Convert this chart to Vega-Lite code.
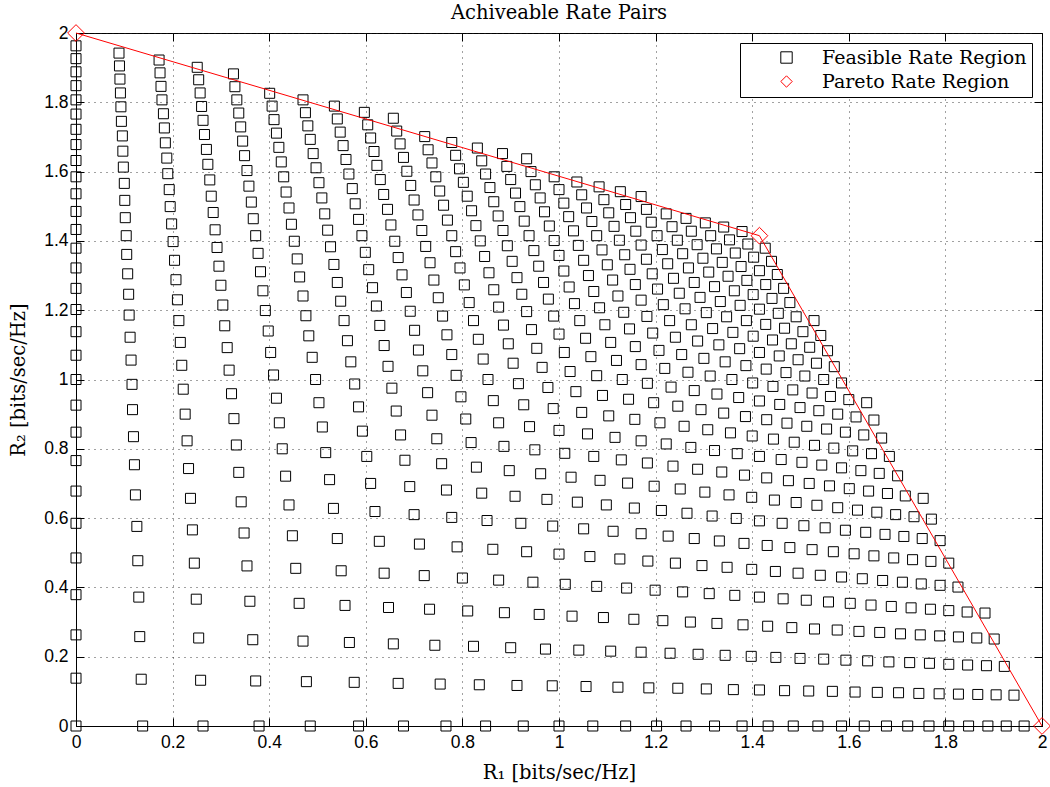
{
"$schema":"https://vega.github.io/schema/vega-lite/v6.json",
"width":966,"height":693,
"autosize":{"type":"none"},
"padding":{"left":76,"top":33,"right":8,"bottom":61},
"background":"white",
"title":{"text":"Achiveable Rate Pairs","font":"DejaVu Serif","fontSize":19.5,"fontWeight":"normal","color":"black","offset":-1},
"config":{
"view":{"stroke":"black","strokeWidth":1},
"axis":{"domainColor":"black","domainWidth":1,"tickColor":"black","tickWidth":1,"tickSize":-8,"labelFont":"Liberation Sans","labelFontSize":17.5,"labelColor":"black","titleFont":"DejaVu Serif","titleFontSize":19.5,"titleFontWeight":"normal","titleColor":"black","gridColor":"#222222","gridDash":[1,5],"gridWidth":1,"gridOpacity":0.85,"labelFlush":false,"labelOverlap":false},
"legend":{"orient":"top-right","offset":10,"strokeColor":"black","fillColor":"white","padding":5,"labelFont":"DejaVu Serif","labelFontSize":19,"labelColor":"black","labelLimit":400,"symbolSize":130,"symbolStrokeWidth":1,"symbolOffset":32,"labelOffset":26,"rowPadding":4,"cornerRadius":0}
},
"datasets":{
"pareto":[{"x":0,"y":2},{"x":1.415,"y":1.415},{"x":2,"y":0}],
"feasible":[
{"x":0,"y":0},{"x":0,"y":0.138},{"x":0,"y":0.263},{"x":0,"y":0.379},{"x":0,"y":0.485},{"x":0,"y":0.585},{"x":0,"y":0.678},{"x":0,"y":0.766},{"x":0,"y":0.848},{"x":0,"y":0.926},{"x":0,"y":1},{"x":0,"y":1.07},{"x":0,"y":1.138},{"x":0,"y":1.202},{"x":0,"y":1.263},{"x":0,"y":1.322},{"x":0,"y":1.379},{"x":0,"y":1.433},{"x":0,"y":1.485},{"x":0,"y":1.536},{"x":0,"y":1.585},{"x":0,"y":1.632},{"x":0,"y":1.678},{"x":0,"y":1.722},{"x":0,"y":1.766},{"x":0,"y":1.807},{"x":0,"y":1.848},{"x":0,"y":1.888},{"x":0,"y":1.926},{"x":0,"y":1.963},
{"x":0.138,"y":0},{"x":0.135,"y":0.135},{"x":0.132,"y":0.258},{"x":0.13,"y":0.372},{"x":0.128,"y":0.477},{"x":0.126,"y":0.576},{"x":0.123,"y":0.667},{"x":0.121,"y":0.754},{"x":0.119,"y":0.835},{"x":0.117,"y":0.913},{"x":0.116,"y":0.986},{"x":0.114,"y":1.056},{"x":0.112,"y":1.122},{"x":0.11,"y":1.186},{"x":0.109,"y":1.246},{"x":0.107,"y":1.305},{"x":0.105,"y":1.361},{"x":0.104,"y":1.415},{"x":0.102,"y":1.467},{"x":0.101,"y":1.517},{"x":0.1,"y":1.566},{"x":0.098,"y":1.613},{"x":0.097,"y":1.659},{"x":0.096,"y":1.703},{"x":0.094,"y":1.745},{"x":0.093,"y":1.787},{"x":0.092,"y":1.827},{"x":0.091,"y":1.867},{"x":0.09,"y":1.905},{"x":0.089,"y":1.942},
{"x":0.263,"y":0},{"x":0.258,"y":0.132},{"x":0.254,"y":0.254},{"x":0.249,"y":0.366},{"x":0.245,"y":0.47},{"x":0.241,"y":0.566},{"x":0.237,"y":0.657},{"x":0.233,"y":0.743},{"x":0.23,"y":0.823},{"x":0.226,"y":0.9},{"x":0.222,"y":0.972},{"x":0.219,"y":1.041},{"x":0.216,"y":1.107},{"x":0.213,"y":1.17},{"x":0.21,"y":1.23},{"x":0.207,"y":1.288},{"x":0.204,"y":1.344},{"x":0.201,"y":1.398},{"x":0.198,"y":1.449},{"x":0.195,"y":1.499},{"x":0.193,"y":1.548},{"x":0.19,"y":1.594},{"x":0.188,"y":1.639},{"x":0.185,"y":1.683},{"x":0.183,"y":1.726},{"x":0.181,"y":1.767},{"x":0.178,"y":1.807},{"x":0.176,"y":1.846},{"x":0.174,"y":1.885},{"x":0.172,"y":1.922},
{"x":0.379,"y":0},{"x":0.372,"y":0.13},{"x":0.366,"y":0.249},{"x":0.36,"y":0.36},{"x":0.354,"y":0.462},{"x":0.348,"y":0.557},{"x":0.342,"y":0.647},{"x":0.337,"y":0.732},{"x":0.332,"y":0.811},{"x":0.327,"y":0.887},{"x":0.322,"y":0.959},{"x":0.317,"y":1.027},{"x":0.313,"y":1.092},{"x":0.308,"y":1.155},{"x":0.304,"y":1.215},{"x":0.3,"y":1.272},{"x":0.296,"y":1.327},{"x":0.292,"y":1.381},{"x":0.288,"y":1.432},{"x":0.284,"y":1.482},{"x":0.28,"y":1.529},{"x":0.277,"y":1.576},{"x":0.273,"y":1.621},{"x":0.27,"y":1.664},{"x":0.266,"y":1.707},{"x":0.263,"y":1.748},{"x":0.26,"y":1.788},{"x":0.257,"y":1.827},{"x":0.254,"y":1.865},{"x":0.251,"y":1.901},
{"x":0.485,"y":0},{"x":0.477,"y":0.128},{"x":0.47,"y":0.245},{"x":0.462,"y":0.354},{"x":0.455,"y":0.455},{"x":0.448,"y":0.549},{"x":0.441,"y":0.638},{"x":0.434,"y":0.721},{"x":0.427,"y":0.8},{"x":0.421,"y":0.875},{"x":0.415,"y":0.946},{"x":0.409,"y":1.013},{"x":0.403,"y":1.078},{"x":0.398,"y":1.14},{"x":0.392,"y":1.199},{"x":0.387,"y":1.256},{"x":0.382,"y":1.311},{"x":0.377,"y":1.364},{"x":0.372,"y":1.415},{"x":0.367,"y":1.464},{"x":0.363,"y":1.512},{"x":0.358,"y":1.558},{"x":0.354,"y":1.603},{"x":0.349,"y":1.646},{"x":0.345,"y":1.688},{"x":0.341,"y":1.729},{"x":0.337,"y":1.769},{"x":0.333,"y":1.807},{"x":0.329,"y":1.845},{"x":0.326,"y":1.882},
{"x":0.585,"y":0},{"x":0.576,"y":0.126},{"x":0.566,"y":0.241},{"x":0.557,"y":0.348},{"x":0.549,"y":0.448},{"x":0.541,"y":0.541},{"x":0.533,"y":0.628},{"x":0.525,"y":0.711},{"x":0.517,"y":0.789},{"x":0.51,"y":0.863},{"x":0.503,"y":0.933},{"x":0.496,"y":1},{"x":0.489,"y":1.064},{"x":0.482,"y":1.126},{"x":0.476,"y":1.184},{"x":0.47,"y":1.241},{"x":0.463,"y":1.296},{"x":0.458,"y":1.348},{"x":0.452,"y":1.399},{"x":0.446,"y":1.448},{"x":0.441,"y":1.495},{"x":0.435,"y":1.541},{"x":0.43,"y":1.585},{"x":0.425,"y":1.628},{"x":0.42,"y":1.67},{"x":0.415,"y":1.711},{"x":0.41,"y":1.75},{"x":0.406,"y":1.789},{"x":0.401,"y":1.826},
{"x":0.678,"y":0},{"x":0.667,"y":0.123},{"x":0.657,"y":0.237},{"x":0.647,"y":0.342},{"x":0.638,"y":0.441},{"x":0.628,"y":0.533},{"x":0.619,"y":0.619},{"x":0.61,"y":0.7},{"x":0.602,"y":0.778},{"x":0.593,"y":0.851},{"x":0.585,"y":0.921},{"x":0.577,"y":0.987},{"x":0.569,"y":1.051},{"x":0.562,"y":1.112},{"x":0.555,"y":1.17},{"x":0.548,"y":1.226},{"x":0.541,"y":1.28},{"x":0.534,"y":1.332},{"x":0.527,"y":1.383},{"x":0.521,"y":1.431},{"x":0.515,"y":1.478},{"x":0.509,"y":1.524},{"x":0.503,"y":1.568},{"x":0.497,"y":1.611},{"x":0.491,"y":1.652},{"x":0.485,"y":1.693},{"x":0.48,"y":1.732},{"x":0.475,"y":1.77},{"x":0.47,"y":1.807},
{"x":0.766,"y":0},{"x":0.754,"y":0.121},{"x":0.743,"y":0.233},{"x":0.732,"y":0.337},{"x":0.721,"y":0.434},{"x":0.711,"y":0.525},{"x":0.7,"y":0.61},{"x":0.691,"y":0.691},{"x":0.681,"y":0.767},{"x":0.672,"y":0.84},{"x":0.663,"y":0.909},{"x":0.654,"y":0.975},{"x":0.646,"y":1.038},{"x":0.638,"y":1.098},{"x":0.629,"y":1.156},{"x":0.622,"y":1.212},{"x":0.614,"y":1.265},{"x":0.606,"y":1.317},{"x":0.599,"y":1.367},{"x":0.592,"y":1.415},{"x":0.585,"y":1.462},{"x":0.578,"y":1.507},{"x":0.572,"y":1.551},{"x":0.565,"y":1.593},{"x":0.559,"y":1.635},{"x":0.553,"y":1.675},{"x":0.547,"y":1.714},{"x":0.541,"y":1.752},{"x":0.535,"y":1.789},
{"x":0.848,"y":0},{"x":0.835,"y":0.119},{"x":0.823,"y":0.23},{"x":0.811,"y":0.332},{"x":0.8,"y":0.427},{"x":0.789,"y":0.517},{"x":0.778,"y":0.602},{"x":0.767,"y":0.681},{"x":0.757,"y":0.757},{"x":0.747,"y":0.829},{"x":0.737,"y":0.897},{"x":0.728,"y":0.962},{"x":0.718,"y":1.025},{"x":0.709,"y":1.085},{"x":0.701,"y":1.142},{"x":0.692,"y":1.197},{"x":0.684,"y":1.251},{"x":0.675,"y":1.302},{"x":0.667,"y":1.352},{"x":0.66,"y":1.399},{"x":0.652,"y":1.446},{"x":0.645,"y":1.491},{"x":0.637,"y":1.534},{"x":0.63,"y":1.577},{"x":0.623,"y":1.618},{"x":0.617,"y":1.658},{"x":0.61,"y":1.697},{"x":0.604,"y":1.735},{"x":0.597,"y":1.771},
{"x":0.926,"y":0},{"x":0.913,"y":0.117},{"x":0.9,"y":0.226},{"x":0.887,"y":0.327},{"x":0.875,"y":0.421},{"x":0.863,"y":0.51},{"x":0.851,"y":0.593},{"x":0.84,"y":0.672},{"x":0.829,"y":0.747},{"x":0.818,"y":0.818},{"x":0.807,"y":0.886},{"x":0.797,"y":0.95},{"x":0.787,"y":1.012},{"x":0.778,"y":1.072},{"x":0.768,"y":1.129},{"x":0.759,"y":1.183},{"x":0.75,"y":1.236},{"x":0.741,"y":1.287},{"x":0.733,"y":1.337},{"x":0.724,"y":1.384},{"x":0.716,"y":1.43},{"x":0.708,"y":1.475},{"x":0.7,"y":1.518},{"x":0.693,"y":1.56},{"x":0.685,"y":1.601},{"x":0.678,"y":1.641},{"x":0.671,"y":1.68},{"x":0.664,"y":1.717},{"x":0.657,"y":1.754},
{"x":1,"y":0},{"x":0.986,"y":0.116},{"x":0.972,"y":0.222},{"x":0.959,"y":0.322},{"x":0.946,"y":0.415},{"x":0.933,"y":0.503},{"x":0.921,"y":0.585},{"x":0.909,"y":0.663},{"x":0.897,"y":0.737},{"x":0.886,"y":0.807},{"x":0.875,"y":0.875},{"x":0.864,"y":0.939},{"x":0.853,"y":1},{"x":0.843,"y":1.059},{"x":0.833,"y":1.116},{"x":0.823,"y":1.17},{"x":0.814,"y":1.222},{"x":0.804,"y":1.273},{"x":0.795,"y":1.322},{"x":0.786,"y":1.369},{"x":0.778,"y":1.415},{"x":0.769,"y":1.46},{"x":0.761,"y":1.503},{"x":0.753,"y":1.544},{"x":0.745,"y":1.585},{"x":0.737,"y":1.625},{"x":0.729,"y":1.663},{"x":0.722,"y":1.701},
{"x":1.07,"y":0},{"x":1.056,"y":0.114},{"x":1.041,"y":0.219},{"x":1.027,"y":0.317},{"x":1.013,"y":0.409},{"x":1,"y":0.496},{"x":0.987,"y":0.577},{"x":0.975,"y":0.654},{"x":0.962,"y":0.728},{"x":0.95,"y":0.797},{"x":0.939,"y":0.864},{"x":0.927,"y":0.927},{"x":0.916,"y":0.988},{"x":0.905,"y":1.047},{"x":0.895,"y":1.103},{"x":0.885,"y":1.157},{"x":0.875,"y":1.209},{"x":0.865,"y":1.259},{"x":0.855,"y":1.308},{"x":0.846,"y":1.355},{"x":0.837,"y":1.4},{"x":0.828,"y":1.444},{"x":0.819,"y":1.487},{"x":0.81,"y":1.529},{"x":0.802,"y":1.569},{"x":0.794,"y":1.608},{"x":0.786,"y":1.647},{"x":0.778,"y":1.684},
{"x":1.138,"y":0},{"x":1.122,"y":0.112},{"x":1.107,"y":0.216},{"x":1.092,"y":0.313},{"x":1.078,"y":0.403},{"x":1.064,"y":0.489},{"x":1.051,"y":0.569},{"x":1.038,"y":0.646},{"x":1.025,"y":0.718},{"x":1.012,"y":0.787},{"x":1,"y":0.853},{"x":0.988,"y":0.916},{"x":0.977,"y":0.977},{"x":0.965,"y":1.035},{"x":0.954,"y":1.09},{"x":0.943,"y":1.144},{"x":0.933,"y":1.196},{"x":0.923,"y":1.246},{"x":0.913,"y":1.294},{"x":0.903,"y":1.341},{"x":0.893,"y":1.386},{"x":0.884,"y":1.43},{"x":0.874,"y":1.472},{"x":0.865,"y":1.513},{"x":0.857,"y":1.554},{"x":0.848,"y":1.593},{"x":0.84,"y":1.631},{"x":0.831,"y":1.668},
{"x":1.202,"y":0},{"x":1.186,"y":0.11},{"x":1.17,"y":0.213},{"x":1.155,"y":0.308},{"x":1.14,"y":0.398},{"x":1.126,"y":0.482},{"x":1.112,"y":0.562},{"x":1.098,"y":0.638},{"x":1.085,"y":0.709},{"x":1.072,"y":0.778},{"x":1.059,"y":0.843},{"x":1.047,"y":0.905},{"x":1.035,"y":0.965},{"x":1.023,"y":1.023},{"x":1.011,"y":1.078},{"x":1,"y":1.131},{"x":0.989,"y":1.183},{"x":0.978,"y":1.232},{"x":0.968,"y":1.28},{"x":0.958,"y":1.327},{"x":0.948,"y":1.372},{"x":0.938,"y":1.415},{"x":0.928,"y":1.457},{"x":0.919,"y":1.499},{"x":0.91,"y":1.538},{"x":0.9,"y":1.577},{"x":0.892,"y":1.615},{"x":0.883,"y":1.652},
{"x":1.263,"y":0},{"x":1.246,"y":0.109},{"x":1.23,"y":0.21},{"x":1.215,"y":0.304},{"x":1.199,"y":0.392},{"x":1.184,"y":0.476},{"x":1.17,"y":0.555},{"x":1.156,"y":0.629},{"x":1.142,"y":0.701},{"x":1.129,"y":0.768},{"x":1.116,"y":0.833},{"x":1.103,"y":0.895},{"x":1.09,"y":0.954},{"x":1.078,"y":1.011},{"x":1.066,"y":1.066},{"x":1.055,"y":1.119},{"x":1.043,"y":1.17},{"x":1.032,"y":1.219},{"x":1.021,"y":1.267},{"x":1.01,"y":1.313},{"x":1,"y":1.358},{"x":0.99,"y":1.401},{"x":0.98,"y":1.443},{"x":0.97,"y":1.484},{"x":0.961,"y":1.524},{"x":0.951,"y":1.562},{"x":0.942,"y":1.6},{"x":0.933,"y":1.637},
{"x":1.322,"y":0},{"x":1.305,"y":0.107},{"x":1.288,"y":0.207},{"x":1.272,"y":0.3},{"x":1.256,"y":0.387},{"x":1.241,"y":0.47},{"x":1.226,"y":0.548},{"x":1.212,"y":0.622},{"x":1.197,"y":0.692},{"x":1.183,"y":0.759},{"x":1.17,"y":0.823},{"x":1.157,"y":0.885},{"x":1.144,"y":0.943},{"x":1.131,"y":1},{"x":1.119,"y":1.055},{"x":1.107,"y":1.107},{"x":1.095,"y":1.158},{"x":1.084,"y":1.207},{"x":1.072,"y":1.254},{"x":1.061,"y":1.3},{"x":1.051,"y":1.344},{"x":1.04,"y":1.387},{"x":1.03,"y":1.429},{"x":1.02,"y":1.47},{"x":1.01,"y":1.509},{"x":1,"y":1.548},{"x":0.99,"y":1.585},
{"x":1.379,"y":0},{"x":1.361,"y":0.105},{"x":1.344,"y":0.204},{"x":1.327,"y":0.296},{"x":1.311,"y":0.382},{"x":1.296,"y":0.463},{"x":1.28,"y":0.541},{"x":1.265,"y":0.614},{"x":1.251,"y":0.684},{"x":1.236,"y":0.75},{"x":1.222,"y":0.814},{"x":1.209,"y":0.875},{"x":1.196,"y":0.933},{"x":1.183,"y":0.989},{"x":1.17,"y":1.043},{"x":1.158,"y":1.095},{"x":1.146,"y":1.146},{"x":1.134,"y":1.194},{"x":1.122,"y":1.241},{"x":1.111,"y":1.287},{"x":1.1,"y":1.331},{"x":1.089,"y":1.374},{"x":1.078,"y":1.415},{"x":1.068,"y":1.456},{"x":1.057,"y":1.495},{"x":1.047,"y":1.533},{"x":1.037,"y":1.57},
{"x":1.433,"y":0},{"x":1.415,"y":0.104},{"x":1.398,"y":0.201},{"x":1.381,"y":0.292},{"x":1.364,"y":0.377},{"x":1.348,"y":0.458},{"x":1.332,"y":0.534},{"x":1.317,"y":0.606},{"x":1.302,"y":0.675},{"x":1.287,"y":0.741},{"x":1.273,"y":0.804},{"x":1.259,"y":0.865},{"x":1.246,"y":0.923},{"x":1.232,"y":0.978},{"x":1.219,"y":1.032},{"x":1.207,"y":1.084},{"x":1.194,"y":1.134},{"x":1.182,"y":1.182},{"x":1.17,"y":1.229},{"x":1.158,"y":1.274},{"x":1.147,"y":1.318},{"x":1.136,"y":1.36},{"x":1.125,"y":1.402},{"x":1.114,"y":1.442},{"x":1.103,"y":1.481},{"x":1.093,"y":1.519},{"x":1.083,"y":1.556},
{"x":1.485,"y":0},{"x":1.467,"y":0.102},{"x":1.449,"y":0.198},{"x":1.432,"y":0.288},{"x":1.415,"y":0.372},{"x":1.399,"y":0.452},{"x":1.383,"y":0.527},{"x":1.367,"y":0.599},{"x":1.352,"y":0.667},{"x":1.337,"y":0.733},{"x":1.322,"y":0.795},{"x":1.308,"y":0.855},{"x":1.294,"y":0.913},{"x":1.28,"y":0.968},{"x":1.267,"y":1.021},{"x":1.254,"y":1.072},{"x":1.241,"y":1.122},{"x":1.229,"y":1.17},{"x":1.216,"y":1.216},{"x":1.204,"y":1.261},{"x":1.193,"y":1.305},{"x":1.181,"y":1.347},{"x":1.17,"y":1.388},{"x":1.159,"y":1.428},{"x":1.148,"y":1.467},{"x":1.138,"y":1.505},{"x":1.127,"y":1.542},
{"x":1.536,"y":0},{"x":1.517,"y":0.101},{"x":1.499,"y":0.195},{"x":1.482,"y":0.284},{"x":1.464,"y":0.367},{"x":1.448,"y":0.446},{"x":1.431,"y":0.521},{"x":1.415,"y":0.592},{"x":1.399,"y":0.66},{"x":1.384,"y":0.724},{"x":1.369,"y":0.786},{"x":1.355,"y":0.846},{"x":1.341,"y":0.903},{"x":1.327,"y":0.958},{"x":1.313,"y":1.01},{"x":1.3,"y":1.061},{"x":1.287,"y":1.111},{"x":1.274,"y":1.158},{"x":1.261,"y":1.204},{"x":1.249,"y":1.249},{"x":1.237,"y":1.292},{"x":1.225,"y":1.334},{"x":1.214,"y":1.375},{"x":1.203,"y":1.415},{"x":1.191,"y":1.454},{"x":1.181,"y":1.491},{"x":1.17,"y":1.528},
{"x":1.585,"y":0},{"x":1.566,"y":0.1},{"x":1.548,"y":0.193},{"x":1.529,"y":0.28},{"x":1.512,"y":0.363},{"x":1.495,"y":0.441},{"x":1.478,"y":0.515},{"x":1.462,"y":0.585},{"x":1.446,"y":0.652},{"x":1.43,"y":0.716},{"x":1.415,"y":0.778},{"x":1.4,"y":0.837},{"x":1.386,"y":0.893},{"x":1.372,"y":0.948},{"x":1.358,"y":1},{"x":1.344,"y":1.051},{"x":1.331,"y":1.1},{"x":1.318,"y":1.147},{"x":1.305,"y":1.193},{"x":1.292,"y":1.237},{"x":1.28,"y":1.28},{"x":1.268,"y":1.322},{"x":1.256,"y":1.363},{"x":1.245,"y":1.402},{"x":1.234,"y":1.441},{"x":1.222,"y":1.478},
{"x":1.632,"y":0},{"x":1.613,"y":0.098},{"x":1.594,"y":0.19},{"x":1.576,"y":0.277},{"x":1.558,"y":0.358},{"x":1.541,"y":0.435},{"x":1.524,"y":0.509},{"x":1.507,"y":0.578},{"x":1.491,"y":0.645},{"x":1.475,"y":0.708},{"x":1.46,"y":0.769},{"x":1.444,"y":0.828},{"x":1.43,"y":0.884},{"x":1.415,"y":0.938},{"x":1.401,"y":0.99},{"x":1.387,"y":1.04},{"x":1.374,"y":1.089},{"x":1.36,"y":1.136},{"x":1.347,"y":1.181},{"x":1.334,"y":1.225},{"x":1.322,"y":1.268},{"x":1.31,"y":1.31},{"x":1.298,"y":1.35},{"x":1.286,"y":1.389},{"x":1.274,"y":1.428},{"x":1.263,"y":1.465},
{"x":1.678,"y":0},{"x":1.659,"y":0.097},{"x":1.639,"y":0.188},{"x":1.621,"y":0.273},{"x":1.603,"y":0.354},{"x":1.585,"y":0.43},{"x":1.568,"y":0.503},{"x":1.551,"y":0.572},{"x":1.534,"y":0.637},{"x":1.518,"y":0.7},{"x":1.503,"y":0.761},{"x":1.487,"y":0.819},{"x":1.472,"y":0.874},{"x":1.457,"y":0.928},{"x":1.443,"y":0.98},{"x":1.429,"y":1.03},{"x":1.415,"y":1.078},{"x":1.402,"y":1.125},{"x":1.388,"y":1.17},{"x":1.375,"y":1.214},{"x":1.363,"y":1.256},{"x":1.35,"y":1.298},{"x":1.338,"y":1.338},{"x":1.326,"y":1.377},{"x":1.314,"y":1.415},{"x":1.303,"y":1.452},
{"x":1.722,"y":0},{"x":1.703,"y":0.096},{"x":1.683,"y":0.185},{"x":1.664,"y":0.27},{"x":1.646,"y":0.349},{"x":1.628,"y":0.425},{"x":1.611,"y":0.497},{"x":1.593,"y":0.565},{"x":1.577,"y":0.63},{"x":1.56,"y":0.693},{"x":1.544,"y":0.753},{"x":1.529,"y":0.81},{"x":1.513,"y":0.865},{"x":1.499,"y":0.919},{"x":1.484,"y":0.97},{"x":1.47,"y":1.02},{"x":1.456,"y":1.068},{"x":1.442,"y":1.114},{"x":1.428,"y":1.159},{"x":1.415,"y":1.203},{"x":1.402,"y":1.245},{"x":1.389,"y":1.286},{"x":1.377,"y":1.326},{"x":1.365,"y":1.365},{"x":1.353,"y":1.403},{"x":1.341,"y":1.44},
{"x":1.766,"y":0},{"x":1.745,"y":0.094},{"x":1.726,"y":0.183},{"x":1.707,"y":0.266},{"x":1.688,"y":0.345},{"x":1.67,"y":0.42},{"x":1.652,"y":0.491},{"x":1.635,"y":0.559},{"x":1.618,"y":0.623},{"x":1.601,"y":0.685},{"x":1.585,"y":0.745},{"x":1.569,"y":0.802},{"x":1.554,"y":0.857},{"x":1.538,"y":0.91},{"x":1.524,"y":0.961},{"x":1.509,"y":1.01},{"x":1.495,"y":1.057},{"x":1.481,"y":1.103},{"x":1.467,"y":1.148},{"x":1.454,"y":1.191},{"x":1.441,"y":1.234},{"x":1.428,"y":1.274},{"x":1.415,"y":1.314},{"x":1.403,"y":1.353},{"x":1.391,"y":1.391},{"x":1.379,"y":1.427},
{"x":1.807,"y":0},{"x":1.787,"y":0.093},{"x":1.767,"y":0.181},{"x":1.748,"y":0.263},{"x":1.729,"y":0.341},{"x":1.711,"y":0.415},{"x":1.693,"y":0.485},{"x":1.675,"y":0.553},{"x":1.658,"y":0.617},{"x":1.641,"y":0.678},{"x":1.625,"y":0.737},{"x":1.608,"y":0.794},{"x":1.593,"y":0.848},{"x":1.577,"y":0.9},{"x":1.562,"y":0.951},{"x":1.548,"y":1},{"x":1.533,"y":1.047},{"x":1.519,"y":1.093},{"x":1.505,"y":1.138},{"x":1.491,"y":1.181},{"x":1.478,"y":1.222},{"x":1.465,"y":1.263},{"x":1.452,"y":1.303},{"x":1.44,"y":1.341},{"x":1.427,"y":1.379},
{"x":1.848,"y":0},{"x":1.827,"y":0.092},{"x":1.807,"y":0.178},{"x":1.788,"y":0.26},{"x":1.769,"y":0.337},{"x":1.75,"y":0.41},{"x":1.732,"y":0.48},{"x":1.714,"y":0.547},{"x":1.697,"y":0.61},{"x":1.68,"y":0.671},{"x":1.663,"y":0.729},{"x":1.647,"y":0.786},{"x":1.631,"y":0.84},{"x":1.615,"y":0.892},{"x":1.6,"y":0.942},{"x":1.585,"y":0.99},{"x":1.57,"y":1.037},{"x":1.556,"y":1.083},{"x":1.542,"y":1.127},{"x":1.528,"y":1.17},
{"x":1.888,"y":0},{"x":1.867,"y":0.091},{"x":1.846,"y":0.176},{"x":1.827,"y":0.257},{"x":1.807,"y":0.333},{"x":1.789,"y":0.406},{"x":1.77,"y":0.475},{"x":1.752,"y":0.541},{"x":1.735,"y":0.604},{"x":1.717,"y":0.664},{"x":1.701,"y":0.722},{"x":1.684,"y":0.778},{"x":1.668,"y":0.831},{"x":1.652,"y":0.883},{"x":1.637,"y":0.933},
{"x":1.926,"y":0},{"x":1.905,"y":0.09},{"x":1.885,"y":0.174},{"x":1.865,"y":0.254},{"x":1.845,"y":0.329},{"x":1.826,"y":0.401},{"x":1.807,"y":0.47},{"x":1.789,"y":0.535},{"x":1.771,"y":0.597},{"x":1.754,"y":0.657},
{"x":1.963,"y":0},{"x":1.942,"y":0.089},{"x":1.922,"y":0.172},{"x":1.901,"y":0.251},{"x":1.882,"y":0.326}
]},
"layer":[
{"data":{"name":"feasible"},
 "mark":{"type":"point","filled":false,"strokeWidth":1,"size":100,"opacity":1},
 "encoding":{
  "x":{"field":"x","type":"quantitative","scale":{"domain":[0,2],"nice":false},
       "axis":{"orient":"bottom","values":[0,0.2,0.4,0.6,0.8,1,1.2,1.4,1.6,1.8,2],"format":"~g","grid":true,"labelPadding":15,"title":"R₁ [bits/sec/Hz]","titleY":52,"titleBaseline":"alphabetic"}},
  "y":{"field":"y","type":"quantitative","scale":{"domain":[0,2],"nice":false},
       "axis":{"orient":"left","values":[0,0.2,0.4,0.6,0.8,1,1.2,1.4,1.6,1.8,2],"format":"~g","grid":true,"labelPadding":16,"title":"R₂ [bits/sec/Hz]","titleX":-58,"titleY":346.5,"titleAngle":-90,"titleAlign":"center","titleBaseline":"middle"}},
  "shape":{"datum":"Feasible Rate Region","type":"nominal","scale":{"domain":["Feasible Rate Region","Pareto Rate Region"],"range":["square","diamond"]},"legend":{"title":null}},
  "color":{"datum":"Feasible Rate Region","type":"nominal","scale":{"domain":["Feasible Rate Region","Pareto Rate Region"],"range":["black","red"]},"legend":{"title":null}}
 }},
{"data":{"name":"pareto"},
 "mark":{"type":"line","color":"red","strokeWidth":1},
 "encoding":{
  "x":{"field":"x","type":"quantitative","axis":{"orient":"top","values":[0,0.2,0.4,0.6,0.8,1,1.2,1.4,1.6,1.8,2],"labels":false,"grid":false,"domain":false,"title":null}},
  "y":{"field":"y","type":"quantitative","axis":{"orient":"right","values":[0,0.2,0.4,0.6,0.8,1,1.2,1.4,1.6,1.8,2],"labels":false,"grid":false,"domain":false,"title":null}}
 }},
{"data":{"name":"pareto"},
 "mark":{"type":"point","filled":false,"strokeWidth":1,"size":280,"opacity":1},
 "encoding":{
  "x":{"field":"x","type":"quantitative","axis":null},
  "y":{"field":"y","type":"quantitative","axis":null},
  "shape":{"datum":"Pareto Rate Region","type":"nominal"},
  "color":{"datum":"Pareto Rate Region","type":"nominal"}
 }}
],
"resolve":{"axis":{"x":"independent","y":"independent"}}
}
